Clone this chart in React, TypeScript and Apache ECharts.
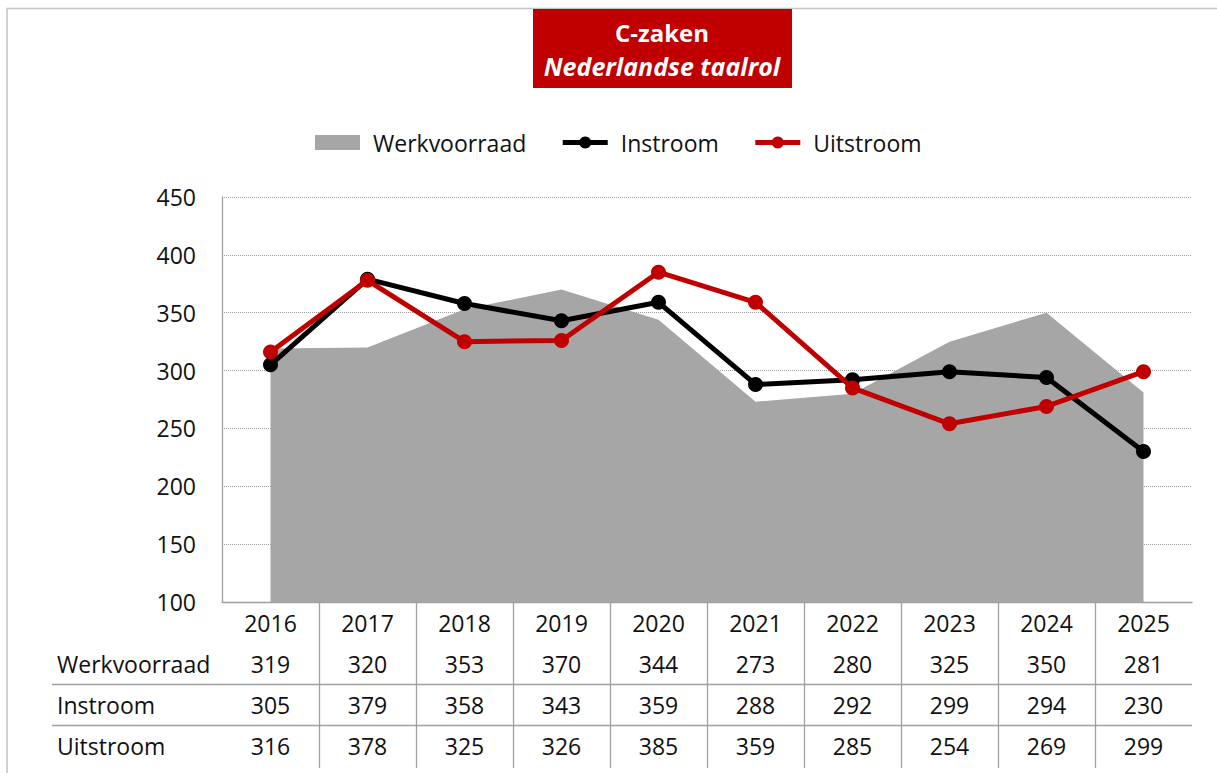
import React, { useEffect, useRef } from "react";
import * as echarts from "echarts";

const years = ["2016", "2017", "2018", "2019", "2020", "2021", "2022", "2023", "2024", "2025"];
const werkvoorraad = [319, 320, 353, 370, 344, 273, 280, 325, 350, 281];
const instroom = [305, 379, 358, 343, 359, 288, 292, 299, 294, 230];
const uitstroom = [316, 378, 325, 326, 385, 359, 285, 254, 269, 299];
const rowLabels = ["Werkvoorraad", "Instroom", "Uitstroom"];
const yMin = 100;
const yMax = 450;
const yStep = 50;

const FONT = "'Open Sans', sans-serif";
const FS = 23;
const W = 1217;
const H = 773;
const G_LEFT = 222;
const G_RIGHT = 1192;
const G_TOP = 197;
const G_BOTTOM = 602;
const ROW_H = 41;
const RED = "#C00000";
const GREY = "#A6A6A6";

export default function App() {
  const ref = useRef<HTMLDivElement>(null);
  useEffect(() => {
    if (!ref.current) return;
    const chart = echarts.init(ref.current, undefined, { renderer: "svg" });
    const plotW = G_RIGHT - G_LEFT;
    const band = plotW / years.length;
    const graphics: any[] = [];
    // outer frame
    graphics.push({
      type: "rect",
      shape: { x: 7, y: 8.5, width: W + 50, height: H + 50 },
      style: { fill: "none", stroke: "#c4c4c4", lineWidth: 1.5 },
      silent: true,
    });
    // title box
    graphics.push({
      type: "rect",
      shape: { x: 533, y: 9, width: 259, height: 79 },
      style: { fill: RED },
    });
    graphics.push({
      type: "text",
      x: 662,
      y: 32,
      style: { text: "C-zaken", fill: "#fff", font: `bold 24px ${FONT}`, align: "center", verticalAlign: "middle" },
    });
    graphics.push({
      type: "text",
      x: 662,
      y: 66,
      style: { text: "Nederlandse taalrol", fill: "#fff", font: `italic bold 25px ${FONT}`, align: "center", verticalAlign: "middle" },
    });
    // table row labels
    rowLabels.forEach((t, i) => {
      graphics.push({
        type: "text",
        x: 57,
        y: G_BOTTOM + ROW_H * (i + 1) + ROW_H / 2,
        style: { text: t, fill: "#111", font: `${FS}px ${FONT}`, align: "left", verticalAlign: "middle" },
      });
    });
    // horizontal row separators
    [2, 3].forEach((r) => {
      const y = G_BOTTOM + ROW_H * r + 0.5;
      graphics.push({
        type: "line",
        shape: { x1: 52, y1: y, x2: G_RIGHT, y2: y },
        style: { stroke: "#a0a0a0", lineWidth: 1.3 },
      });
    });
    // vertical column separators
    for (let k = 1; k < years.length; k++) {
      const x = Math.round(G_LEFT + k * band) + 0.5;
      graphics.push({
        type: "line",
        shape: { x1: x, y1: G_BOTTOM, x2: x, y2: G_BOTTOM + 166 },
        style: { stroke: "#a0a0a0", lineWidth: 1.3 },
      });
    }

    const option: any = {
      animation: false,
      backgroundColor: "#fff",
      textStyle: { fontFamily: FONT },
      legend: {
        left: 310,
        top: 126,
        itemGap: 34,
        itemWidth: 45,
        itemHeight: 15,
        textStyle: { fontSize: FS, color: "#111", fontFamily: FONT, padding: [0, 0, 0, 8] },
        data: [
          { name: "Werkvoorraad", icon: "rect" },
          { name: "Instroom", lineStyle: { width: 5 } },
          { name: "Uitstroom", lineStyle: { width: 5 } },
        ],
      },
      grid: {
        left: G_LEFT,
        right: W - G_RIGHT,
        top: G_TOP,
        bottom: H - G_BOTTOM,
        containLabel: false,
      },
      xAxis: {
        type: "category",
        data: years,
        boundaryGap: true,
        axisLine: { show: true, lineStyle: { color: "#a0a0a0", width: 1.3 } },
        axisTick: { show: false },
        axisLabel: {
          interval: 0,
          margin: 0,
          formatter: (value: string, index: number) =>
            `{y|${value}}\n{v|${werkvoorraad[index]}}\n{v|${instroom[index]}}\n{v|${uitstroom[index]}}`,
          rich: {
            y: { fontSize: FS, lineHeight: ROW_H, color: "#111", fontFamily: FONT },
            v: { fontSize: FS, lineHeight: ROW_H, color: "#111", fontFamily: FONT },
          },
        },
      },
      yAxis: {
        type: "value",
        min: yMin,
        max: yMax,
        interval: yStep,
        axisLine: { show: true, lineStyle: { color: "#a0a0a0", width: 1.3 } },
        axisTick: { show: false },
        axisLabel: { fontSize: FS, color: "#111", margin: 26, fontFamily: FONT },
        splitLine: { show: true, lineStyle: { color: "#9a9a9a", type: "dotted", width: 1 } },
      },
      series: [
        {
          name: "Werkvoorraad",
          type: "line",
          data: werkvoorraad,
          symbol: "none",
          itemStyle: { color: GREY },
          lineStyle: { width: 0, color: GREY },
          areaStyle: { color: GREY, opacity: 1, origin: "start" },
          z: 1,
        },
        {
          name: "Instroom",
          type: "line",
          data: instroom,
          symbol: "circle",
          symbolSize: 15,
          itemStyle: { color: "#000" },
          lineStyle: { width: 5, color: "#000" },
          z: 3,
        },
        {
          name: "Uitstroom",
          type: "line",
          data: uitstroom,
          symbol: "circle",
          symbolSize: 15,
          itemStyle: { color: RED },
          lineStyle: { width: 5, color: RED },
          z: 4,
        },
      ],
      graphic: graphics,
    };
    chart.setOption(option);
    return () => chart.dispose();
  }, []);
  return (
    <div
      ref={ref}
      style={{ position: "fixed", left: 0, top: 0, width: W, height: H }}
    />
  );
}
